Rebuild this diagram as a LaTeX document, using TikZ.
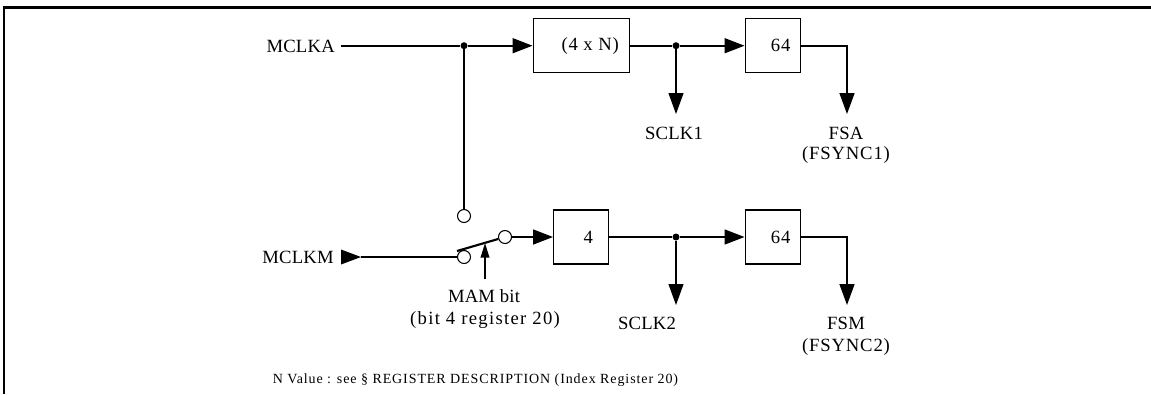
\documentclass[tikz,border=0pt]{standalone}
\usepackage{fontspec}
\setmainfont{Liberation Serif}
\newfontfamily\labf[LetterSpace=1]{Liberation Serif}
\newfontfamily\labwide[LetterSpace=4.5]{Liberation Serif}
\newfontfamily\labwider[LetterSpace=7]{Liberation Serif}
\newfontfamily\notef[LetterSpace=6.5]{Liberation Serif}
\usetikzlibrary{arrows.meta}
\tikzset{
 x=0.75pt,y=-0.75pt,
 frameline/.style={line width=2pt,line cap=butt,line join=miter},
 wire/.style={line width=1.2pt},
 thinwire/.style={line width=0.8pt},
 tip/.style={-{Triangle[length=15pt,width=11.25pt]}},
 tiptall/.style={-{Triangle[length=15.75pt,width=11.25pt]}},
 blockbox/.style={draw,line width=1.1pt,minimum height=40.5pt,inner sep=0pt,anchor=west,font=\labwide\fontsize{14pt}{16pt}\selectfont},
 dotnode/.style={circle,fill,inner sep=0pt,minimum size=5.25pt},
 ring/.style={circle,draw,fill=white,line width=0.8pt,inner sep=0pt,minimum size=9.75pt},
 lab/.style={font=\labf\fontsize{14pt}{16pt}\selectfont,inner sep=0pt,align=center},
 labw/.style={font=\labwide\fontsize{14pt}{16pt}\selectfont,inner sep=0pt,align=center},
 labx/.style={font=\labwider\fontsize{14pt}{16pt}\selectfont,inner sep=0pt,align=center},
 note/.style={font=\notef\fontsize{10.5pt}{12pt}\selectfont,inner sep=0pt,anchor=west},
}
\begin{document}
\begin{tikzpicture}
\useasboundingbox (0,0) rectangle (1151,394);
\fill[white] (0,0) rectangle (1151,394);
\coordinate (fa) at (4,394);
\coordinate (fb) at (4,7.3);
\coordinate (fc) at (1151,7.3);
\draw[frameline] (fa) -- (fb) -- (fc);
% labels
\node[lab,anchor=east] (mclka) at (335,46) {MCLKA};
\node[lab,anchor=east] (mclkm) at (334,257.5) {MCLKM};
% blocks
\node[blockbox,minimum width=72pt] (n4) at (532.5,45.7) {\hspace*{13.5pt}(4 x N)};
\node[blockbox,minimum width=41.25pt] (d64a) at (744.5,45.7) {\hspace*{12pt}64};
\node[blockbox,minimum width=41pt] (d4) at (553,237) {\hspace*{11pt}4};
\node[blockbox,minimum width=41.25pt] (d64b) at (744.5,237) {\hspace*{12pt}64};
% junctions
\node[dotnode] (j1) at (464,45.7) {};
\node[dotnode] (j2) at (676,45.7) {};
\node[dotnode] (j3) at (676,237) {};
\coordinate (mstart) at (341,45.7);
\coordinate (fsabend) at (847,45.7);
\coordinate (fsaend) at (847,114);
\coordinate (fsmbend) at (847,237);
\coordinate (fsmend) at (847,305);
\coordinate (sc1) at (676,114);
\coordinate (sc2) at (676,305);
% switch rings
\node[ring] (r1) at (464,216) {};
\node[ring] (r2) at (464,257) {};
\node[ring] (r3) at (505,237) {};
% wires
\draw[wire] (mstart) -- (j1);
\draw[wire,tip] (j1) -- (n4.west);
\draw[thinwire] (j1) -- (r1);
\draw[wire] (n4.east) -- (j2);
\draw[wire,tip] (j2) -- (d64a.west);
\draw[thinwire,tiptall] (j2) -- (sc1);
\draw[wire,tiptall] (d64a.east) -- (fsabend) -- (fsaend);
\draw[wire] (d4.east) -- (j3);
\draw[wire,tip] (j3) -- (d64b.west);
\draw[thinwire,tiptall] (j3) -- (sc2);
\draw[wire,tiptall] (d64b.east) -- (fsmbend) -- (fsmend);
\draw[wire,tip] (r3) -- (d4.west);
% MCLKM input
\coordinate (mi) at (341,257);
\coordinate (mt) at (361,257);
\fill (341,249.5) -- (361,257) -- (341,264.5) -- cycle;
\draw[wire] (mt) -- (r2);
% switch blade
\coordinate (bl) at (457,251);
\draw[line width=1.6pt] (bl) -- (r3);
\coordinate (mamb) at (485,278.5);
\coordinate (mamt) at (485,243);
\draw[wire,-{Triangle[length=11pt,width=6.5pt]}] (mamb) -- (mamt);
% text
\node[lab] (sclk1) at (674,133) {SCLK1};
\node[lab] (fsa) at (846,133) {FSA};
\node[labw] (fsync1) at (846,155) {(FSYNC1)};
\node[lab] (sclk2) at (647,323) {SCLK2};
\node[lab] (fsm) at (846,323) {FSM};
\node[labw] (fsync2) at (846,347) {(FSYNC2)};
\node[lab] (mam) at (484,296) {MAM bit};
\node[labx] (mamb2) at (485,320) {(bit 4 register 20)};
\node[note] (nval) at (272.5,380) {N Value : see § REGISTER DESCRIPTION (Index Register 20)};
\end{tikzpicture}
\end{document}
